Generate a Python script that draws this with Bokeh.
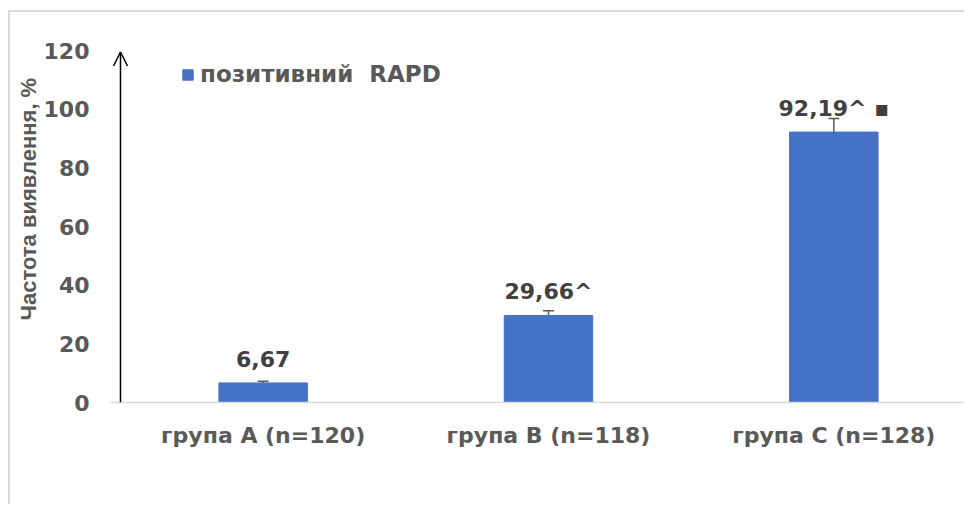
from bokeh.plotting import figure
from bokeh.models import (ColumnDataSource, Range1d, Whisker, Arrow, OpenHead,
                          Legend, LegendItem, FixedTicker, Title)
from bokeh.core.properties import value
from bokeh.embed import file_html
from bokeh.resources import INLINE

categories = ["група А (n=120)", "група В (n=118)", "група С (n=128)"]
values = [6.67, 29.66, 92.19]
errors = [0.6, 1.6, 4.6]
labels = ["6,67", "29,66^", "92,19^ ▪"]
series_name = "позитивний  RAPD"
y_title = "Частота виявлення, %"
y_ticks = [0, 20, 40, 60, 80, 100, 120]

xs = list(range(len(categories)))
src = ColumnDataSource(dict(
    x=xs, top=values, lower=[v - e for v, e in zip(values, errors)],
    upper=[v + e for v, e in zip(values, errors)], label=labels))

FONT = "DejaVu Sans"
GREY = "#595959"

p = figure(width=956, height=494, output_backend="svg", toolbar_location=None,
           x_range=Range1d(-0.535, 2.465), y_range=Range1d(0, 120),
           min_border_left=100, min_border_right=0, min_border_top=38,
           min_border_bottom=104)
p.outline_line_color = None
p.border_fill_color = "white"
p.xgrid.visible = False
p.ygrid.visible = False
p.styles = {"border-top": "2px solid #d9d9d9", "border-left": "2px solid #d9d9d9",
            "border-right": "0px none", "border-bottom": "0px none",
            "outline": "none", "box-shadow": "none",
            "margin-top": "10px", "margin-left": "8px"}

bars = p.vbar(x="x", top="top", width=0.31, source=src, fill_color="#4472C4",
              line_color="#4472C4")
w = Whisker(base="x", lower="lower", upper="upper", source=src,
            line_color=GREY, line_width=1.5)
for h in (w.upper_head, w.lower_head):
    h.size = 11
    h.line_color = GREY
    h.line_width = 1.5
p.add_layout(w)

p.text(x="x", y="top", text="label", source=src, y_offset=-24,
       text_align="center", text_baseline="middle",
       text_font=value(FONT), text_font_style="bold", text_font_size="22px",
       text_color="#404040")

# x axis
p.xaxis.ticker = FixedTicker(ticks=xs)
p.xaxis.major_label_overrides = {i: c for i, c in enumerate(categories)}
p.xaxis.axis_line_color = "#d9d9d9"
p.xaxis.axis_line_width = 1.5
p.xaxis.major_tick_line_color = None
p.xaxis.minor_tick_line_color = None
p.xaxis.major_label_standoff = 14
p.xaxis.major_label_text_font = FONT
p.xaxis.major_label_text_font_style = "bold"
p.xaxis.major_label_text_font_size = "22px"
p.xaxis.major_label_text_color = GREY

# y axis
p.yaxis.ticker = FixedTicker(ticks=y_ticks)
p.yaxis.axis_line_color = None
p.yaxis.major_tick_line_color = None
p.yaxis.minor_tick_line_color = None
p.yaxis.major_label_standoff = 15
p.yaxis.major_label_text_font = FONT
p.yaxis.major_label_text_font_style = "bold"
p.yaxis.major_label_text_font_size = "22px"
p.yaxis.major_label_text_color = GREY

p.add_layout(Title(text=y_title, align="left", offset=82,
                   text_font="Liberation Sans", text_font_style="bold",
                   text_font_size="22px", text_color=GREY, standoff=0), "left")

p.add_layout(Arrow(end=OpenHead(size=14, line_width=1.5, line_color="black"),
                   x_start=-0.5, y_start=0, x_end=-0.5, y_end=119.5,
                   line_width=1.5, line_color="black"))

legend = Legend(items=[LegendItem(label=series_name, renderers=[bars])],
                location=(71, 315), border_line_color=None,
                background_fill_alpha=0, glyph_width=13, glyph_height=13,
                label_text_font=FONT, label_text_font_style="bold",
                label_text_font_size="23px", label_text_color=GREY,
                label_standoff=6, padding=4)
p.add_layout(legend)

open("out.html", "w").write(file_html(p, INLINE))
